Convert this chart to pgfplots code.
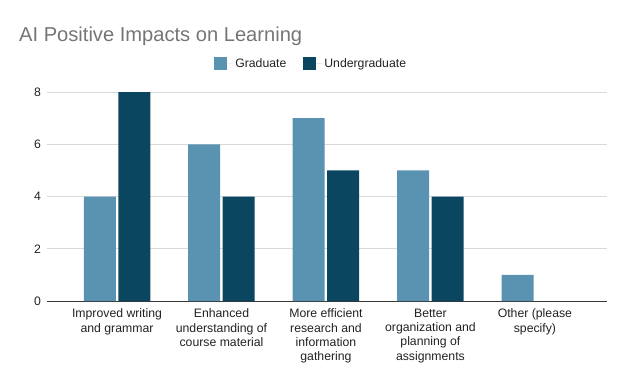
\documentclass[border=0pt]{standalone}
\usepackage{pgfplots}
\pgfplotsset{compat=1.18}
\usepackage{fontspec}
\setmainfont{Liberation Sans}
\definecolor{grad}{HTML}{5A92B1}
\definecolor{under}{HTML}{0B4661}
\definecolor{titlegray}{HTML}{757575}
\definecolor{labgray}{HTML}{222222}
\definecolor{gridgray}{HTML}{D9D9D9}
\begin{document}
\begin{tikzpicture}[x=1bp,y=1bp]
\useasboundingbox (0,0) rectangle (624,385);
\node[anchor=base west, text=titlegray, font=\fontsize{20.2}{24}\selectfont, inner sep=0] at (19,344) {AI Positive Impacts on Learning};
\begin{axis}[
  at={(47bp,84bp)}, anchor=south west,
  scale only axis, width=560bp, height=209bp,
  ybar=2.5bp, bar width=32bp,
  ymin=0, ymax=8, xmin=-0.67, xmax=4.69,
  ytick={0,2,4,6,8},
  xtick={0,1,2,3,4},
  xticklabels={{Improved writing\\and grammar},{Enhanced\\understanding of\\course material},{More efficient\\research and\\information\\gathering},{Better\\organization and\\planning of\\assignments},{Other (please\\specify)}},
  xticklabel style={align=center, font=\fontsize{12.3}{14.3}\selectfont, text=labgray, anchor=north, yshift=-4.5bp},
  yticklabel style={font=\fontsize{12.3}{14}\selectfont, text=labgray, xshift=-2.5bp},
  /pgf/number format/assume math mode=true,
  ymajorgrids, grid style={color=gridgray, line width=0.8bp},
  axis x line*=bottom, axis y line*=left,
  y axis line style={draw=none},
  x axis line style={color=black!78, line width=0.9bp, -},
  major tick length=0pt, tick style={draw=none},
  legend style={at={(rel axis cs:0.293,1.134)}, anchor=west, draw=none, fill=none,
    font=\fontsize{12.3}{14}\selectfont, text=labgray, legend columns=2,
    /tikz/every even column/.append style={column sep=15bp}},
  legend image code/.code={\fill[#1] (0bp,-6.5bp) rectangle (13bp,6.5bp); \path (0bp,0bp) -- (19bp,0bp);},
]
\addplot[fill=grad, draw=none] coordinates {(0,4) (1,6) (2,7) (3,5) (4,1)};
\addplot[fill=under, draw=none] coordinates {(0,8) (1,4) (2,5) (3,4)};
\legend{Graduate, Undergraduate}
\end{axis}
\end{tikzpicture}
\end{document}
